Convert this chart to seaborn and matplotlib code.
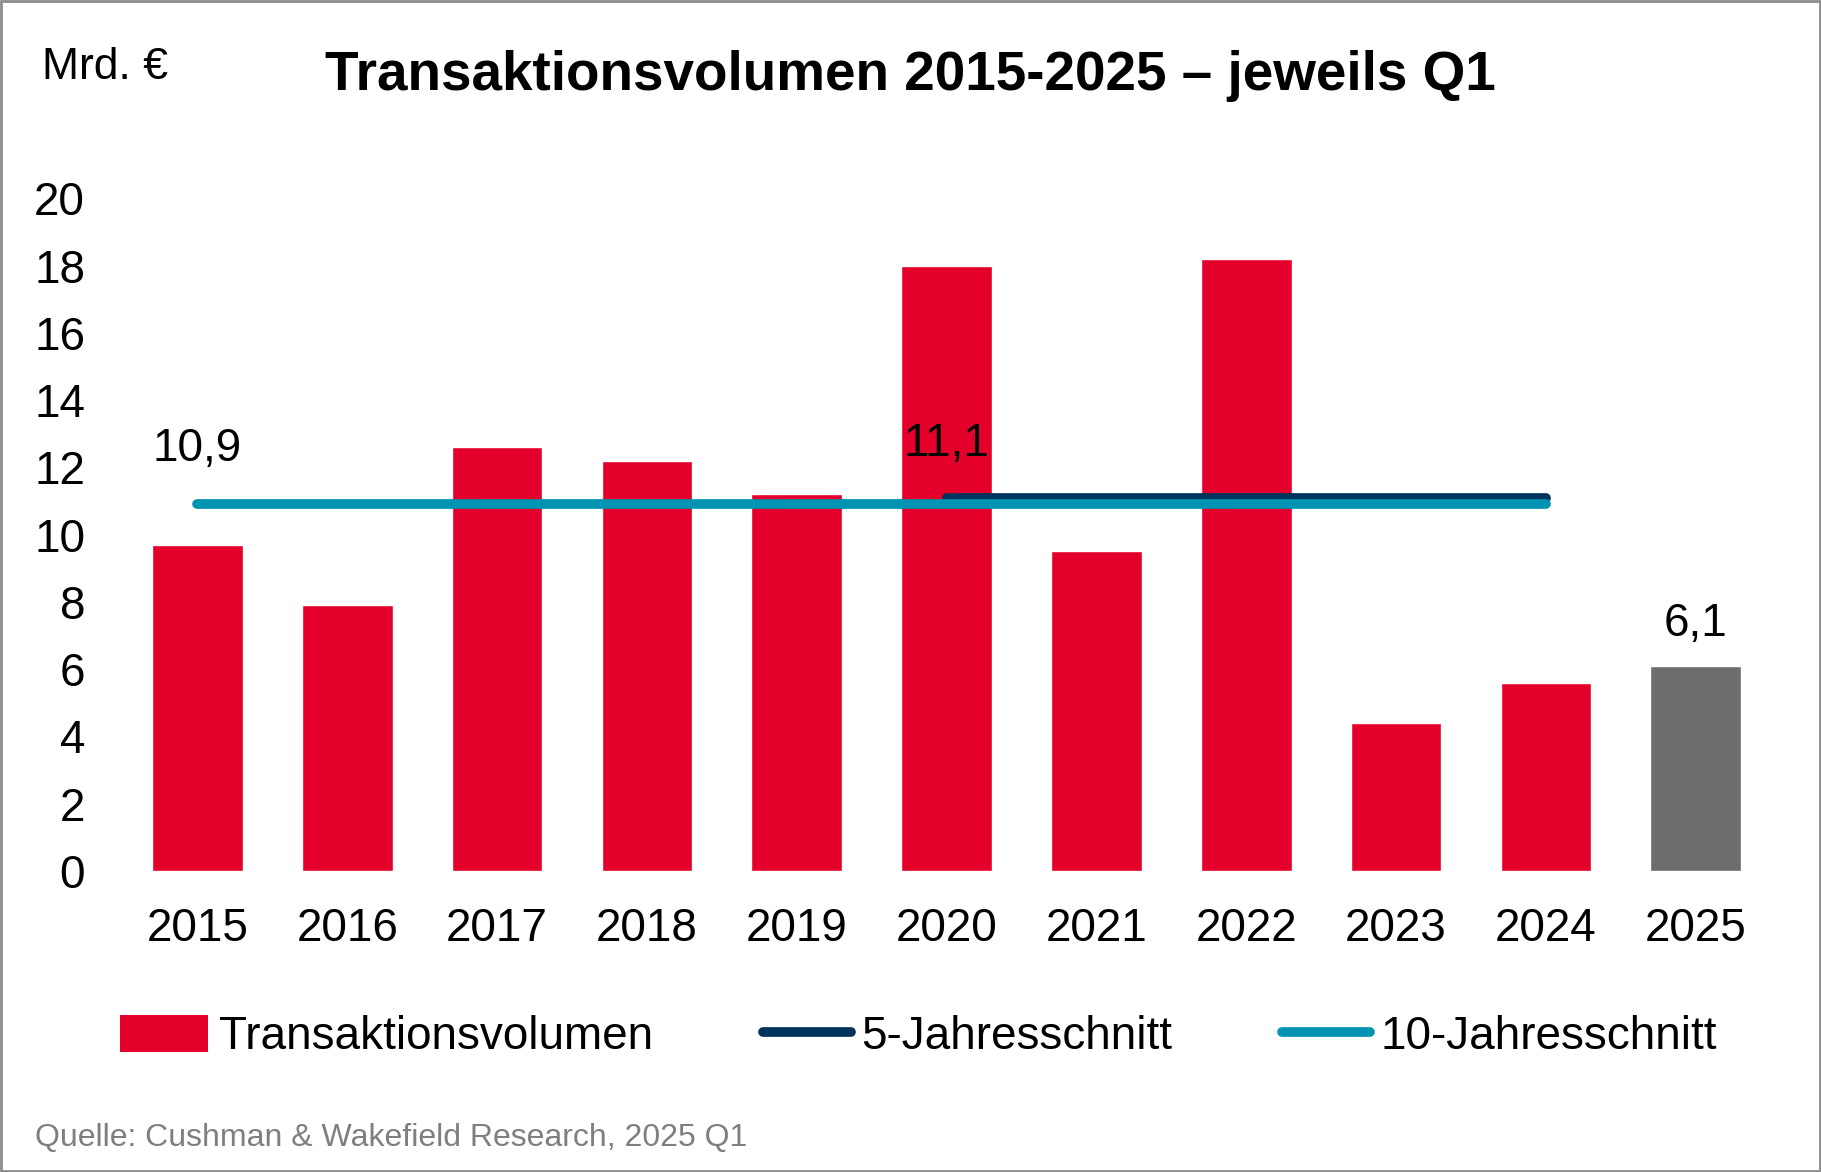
import numpy as np
import pandas as pd
import matplotlib
matplotlib.use("Agg")
import matplotlib.pyplot as plt
import seaborn as sns
from matplotlib.patches import Patch, Rectangle
from matplotlib.lines import Line2D

# data (Mrd. EUR, each Q1)
years = ["2015", "2016", "2017", "2018", "2019", "2020", "2021", "2022", "2023", "2024", "2025"]
volume = [9.7, 7.9, 12.6, 12.2, 11.2, 18.0, 9.5, 18.2, 4.4, 5.6, 6.1]
avg10_years = ["2015", "2016", "2017", "2018", "2019", "2020", "2021", "2022", "2023", "2024"]
avg10_value = 10.9
avg5_years = ["2020", "2021", "2022", "2023", "2024"]
avg5_value = 11.1

RED = "#E4002B"
GREY = "#6D6D6D"
NAVY = "#00345F"
TEAL = "#0093B2"

sns.set_style("white")
plt.rcParams["font.family"] = ["Liberation Sans", "DejaVu Sans"]
plt.rcParams["text.color"] = "black"
plt.rcParams["xtick.color"] = "black"
plt.rcParams["ytick.color"] = "black"

df = pd.DataFrame({"year": years, "volume": volume})
palette = {y: (GREY if y == "2025" else RED) for y in years}

fig = plt.figure(figsize=(18.21, 11.72), dpi=100)
ax = fig.add_axes([0.0673, 0.257, 0.905, 0.5737])

sns.barplot(data=df, x="year", y="volume", hue="year", palette=palette,
            width=0.605, saturation=1, legend=False, ax=ax)

# average lines across the category positions
x10 = [years.index(y) for y in avg10_years]
x5 = [years.index(y) for y in avg5_years]
ax.plot([x5[0], x5[-1]], [avg5_value] * 2, color=NAVY, lw=7,
        solid_capstyle="round", zorder=3)
ax.plot([x10[0], x10[-1]], [avg10_value] * 2, color=TEAL, lw=7,
        solid_capstyle="round", zorder=4)

fmt = lambda v: f"{v:.1f}".replace(".", ",")
ax.text(x10[0], avg10_value + 1.65, fmt(avg10_value), ha="center", va="center", fontsize=33)
ax.text(x5[0], avg5_value + 1.6, fmt(avg5_value), ha="center", va="center", fontsize=33)
ax.text(years.index("2025"), volume[-1] + 1.25, fmt(volume[-1]), ha="center", va="center", fontsize=33)

ax.set_ylim(0, 20)
ax.set_xlim(-0.5, len(years) - 0.5)
ax.set_yticks(range(0, 21, 2))
ax.tick_params(axis="y", labelsize=33, pad=27, length=0)
ax.tick_params(axis="x", labelsize=33, pad=26, length=0)
ax.set_xlabel("")
ax.set_ylabel("")
sns.despine(ax=ax, left=True, bottom=True)

fig.text(0.5, 0.935, "Transaktionsvolumen 2015-2025 \u2013 jeweils Q1",
         ha="center", va="center", fontsize=39.5, fontweight="bold")
fig.text(0.023, 0.942, "Mrd. \u20ac", ha="left", va="center", fontsize=32)
fig.text(0.019, 0.029, "Quelle: Cushman & Wakefield Research, 2025 Q1",
         ha="left", va="center", fontsize=23, color="#7F7F7F")

handles = [
    Patch(facecolor=RED, edgecolor="none"),
    Line2D([0], [0], color=NAVY, lw=7, solid_capstyle="round"),
    Line2D([0], [0], color=TEAL, lw=7, solid_capstyle="round"),
]
labels = ["Transaktionsvolumen", "5-Jahresschnitt", "10-Jahresschnitt"]
fig.legend(handles, labels, loc="center", bbox_to_anchor=(0.5045, 0.115), ncol=3,
           frameon=False, fontsize=33, handlelength=1.92, handleheight=0.86,
           handletextpad=0.23, columnspacing=2.4)

fig.patches.append(Rectangle((0.0005, 0.0008), 0.999, 0.9984, transform=fig.transFigure,
                             fill=False, edgecolor="#8C8C8C", lw=2))

fig.savefig("out.png", dpi=100)
